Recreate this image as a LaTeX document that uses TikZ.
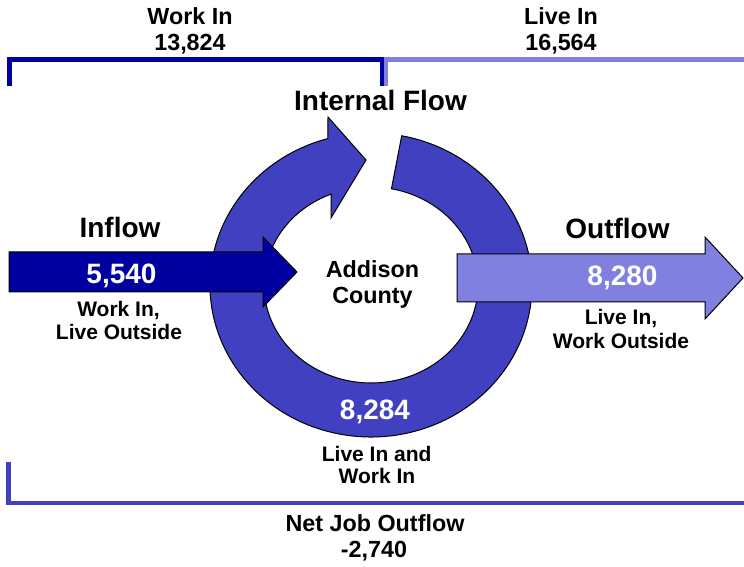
\documentclass[tikz,border=0pt]{standalone}
\usepackage{fontspec}
\setmainfont{Liberation Sans}
\definecolor{ringblue}{RGB}{64,64,192}
\definecolor{darkblue}{RGB}{0,0,160}
\definecolor{lightblue}{RGB}{128,128,224}
\begin{document}
\begin{tikzpicture}[x=0.75pt,y=0.75pt,
  shapeline/.style={draw=black, line width=0.75pt, line join=miter},
  bracket/.style={line width=3.3pt, line cap=butt, line join=miter},
  lblbig/.style={font=\fontsize{21}{25}\selectfont\bfseries, anchor=base, inner sep=0pt},
  lblmid/.style={font=\fontsize{17.5}{21}\selectfont\bfseries, anchor=base, inner sep=0pt},
  lblsmall/.style={font=\fontsize{15.75}{19}\selectfont\bfseries, anchor=base, inner sep=0pt},
  valtxt/.style={lblbig, text=white}]
\useasboundingbox (0,0) rectangle (744,567);

% brackets
\draw[bracket, darkblue] (9.5,481) -- (9.5,507.5) -- (382,507.5) -- (382,481);
\draw[bracket, lightblue] (386,481) -- (386,507.5) -- (744,507.5);
\draw[bracket, ringblue] (8.5,105) -- (8.5,64) -- (744,64);

% circular arrow
\path[shapeline, fill=ringblue] (401.72,431.21)
  arc[start angle=79, end angle=-254.5, x radius=161, y radius=152]
  -- (328,450) -- (366,407) -- (331,349) -- (331.02,372.9)
  arc[start angle=-248.05, end angle=79, x radius=107, y radius=98]
  -- cycle;

% inflow arrow
\path[shapeline, fill=darkblue] (9,315) -- (263,315) -- (263,330) -- (297,295)
  -- (263,260) -- (263,275) -- (9,275) -- cycle;

% outflow arrow
\path[shapeline, fill=lightblue] (457,313) -- (705,313) -- (705,330) -- (743,289)
  -- (705,248) -- (705,265) -- (457,265) -- cycle;

% labels
\node[lblmid] (workin1) at (190,542) {Work In};
\node[lblmid] (workin2) at (190,516.5) {13,824};
\node[lblmid] (livein1) at (561,542) {Live In};
\node[lblmid] (livein2) at (561,516.5) {16,564};
\node[lblbig] (internal) at (380.5,456) {Internal Flow};
\node[lblbig] (inflow) at (120,329) {Inflow};
\node[valtxt] (inval) at (121.5,283) {5,540};
\node[lblsmall] (inA) at (118.5,250) {Work In,};
\node[lblsmall] (inB) at (119,227) {Live Outside};
\node[lblmid] (addison) at (372.5,289) {Addison};
\node[lblmid] (county) at (372.5,263) {County};
\node[lblbig] (outflow) at (617.5,328) {Outflow};
\node[valtxt] (outval) at (622.5,281) {8,280};
\node[lblsmall] (outA) at (621,242) {Live In,};
\node[lblsmall] (outB) at (621,218) {Work Outside};
\node[valtxt] (ringval) at (375,147) {8,284};
\node[lblsmall] (bothA) at (376.7,105.3) {Live In and};
\node[lblsmall] (bothB) at (377,83) {Work In};
\node[lblmid] (net1) at (375,35.3) {Net Job Outflow};
\node[lblmid] (net2) at (374,9) {-2,740};
\end{tikzpicture}
\end{document}
